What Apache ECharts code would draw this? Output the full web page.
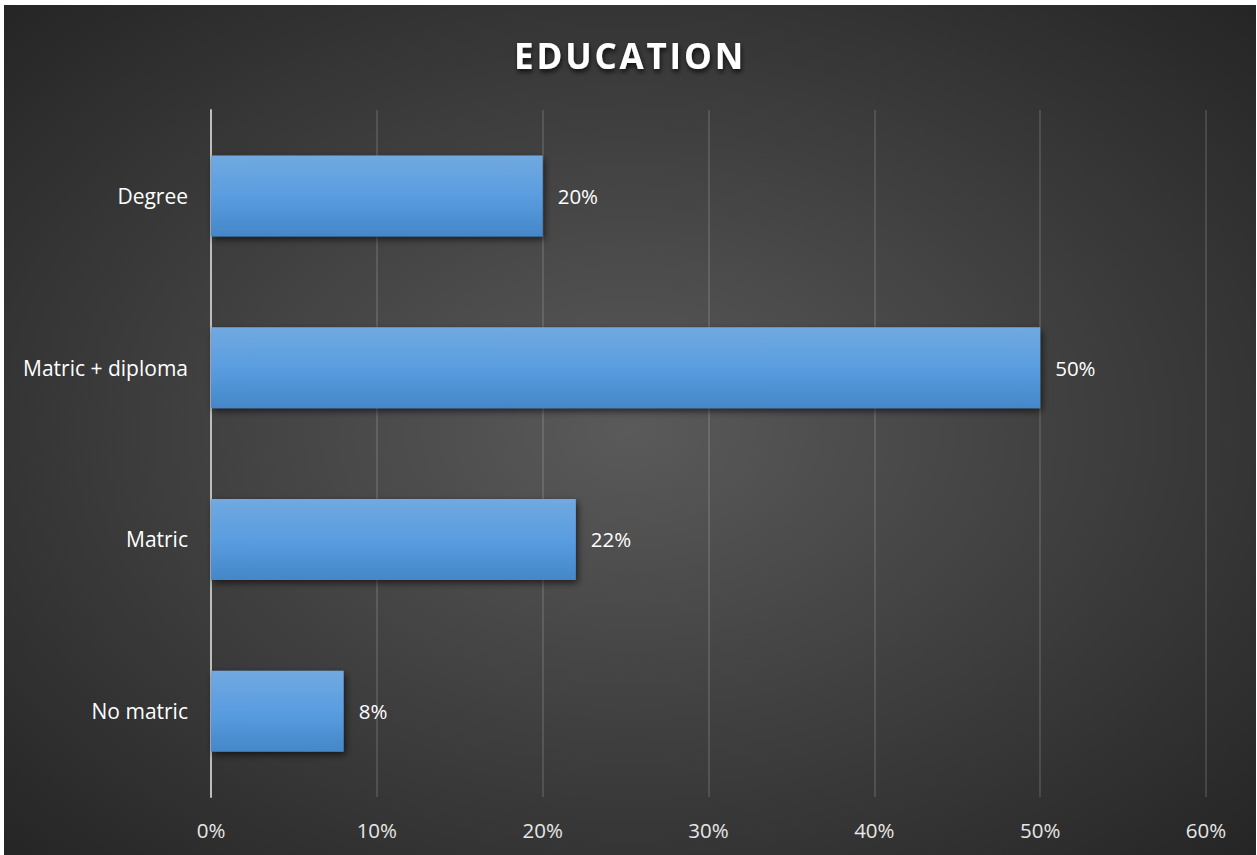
<!DOCTYPE html>
<html>
<head>
<meta charset="utf-8">
<script src="https://cdn.jsdelivr.net/npm/echarts@6/dist/echarts.min.js"></script>
<style>
  html, body { margin: 0; padding: 0; background: #ffffff; }
  #chart { position: absolute; left: 4px; top: 5px; width: 1252px; height: 850px; }
  /* widen the tracking of the heading only (it is the only 35px text) */
  #chart svg text[style*="35px"] { letter-spacing: 2.8px; }
</style>
</head>
<body>
<div id="chart"></div>
<script>
// Education levels, top to bottom
const categories = ['Degree', 'Matric + diploma', 'Matric', 'No matric'];
// Share of respondents, in percent
const shares = [20, 50, 22, 8];
// Value axis ticks
const axisMin = 0;
const axisMax = 60;
const axisStep = 10;

const chart = echarts.init(document.getElementById('chart'), null, { renderer: 'svg' });
const textFont = '"Open Sans", "DejaVu Sans", sans-serif';

chart.setOption({
  backgroundColor: {
    type: 'radial', x: 0.5, y: 0.5, r: 0.72,
    colorStops: [
      { offset: 0, color: '#5a5a5a' },
      { offset: 1, color: '#242424' }
    ]
  },
  title: {
    text: 'EDUCATION',
    left: 'center',
    top: 28,
    textStyle: {
      color: '#ffffff',
      fontFamily: textFont,
      fontWeight: 'bold',
      fontSize: 35,
      textShadowColor: 'rgba(0,0,0,0.75)',
      textShadowBlur: 5,
      textShadowOffsetX: 1,
      textShadowOffsetY: 3
    }
  },
  grid: { left: 207, right: 50, top: 105, bottom: 58, containLabel: false },
  xAxis: {
    type: 'value',
    min: axisMin,
    max: axisMax,
    interval: axisStep,
    axisLine: { show: false },
    axisTick: { show: false },
    axisLabel: {
      formatter: '{value}%',
      color: '#e6e6e6',
      fontFamily: textFont,
      fontSize: 20.5,
      margin: 22
    },
    splitLine: { lineStyle: { color: 'rgba(255,255,255,0.17)', width: 1.5 } }
  },
  yAxis: {
    type: 'category',
    data: categories,
    inverse: true,
    axisLine: { show: true, lineStyle: { color: '#bdbdbd', width: 2 } },
    axisTick: { show: false },
    axisLabel: {
      color: '#ffffff',
      fontFamily: textFont,
      fontSize: 21,
      margin: 23
    },
    splitLine: { show: false }
  },
  series: [{
    type: 'bar',
    data: shares,
    barWidth: 81,
    itemStyle: {
      color: {
        type: 'linear', x: 0, y: 0, x2: 0, y2: 1,
        colorStops: [
          { offset: 0, color: '#71a9e0' },
          { offset: 0.5, color: '#5a9de0' },
          { offset: 1, color: '#4487c9' }
        ]
      },
      shadowColor: 'rgba(0,0,0,0.6)',
      shadowBlur: 7,
      shadowOffsetX: 2,
      shadowOffsetY: 3
    },
    label: {
      show: true,
      position: 'right',
      distance: 15,
      formatter: '{c}%',
      color: '#ffffff',
      fontFamily: textFont,
      fontSize: 20.5
    }
  }]
});
</script>
</body>
</html>
